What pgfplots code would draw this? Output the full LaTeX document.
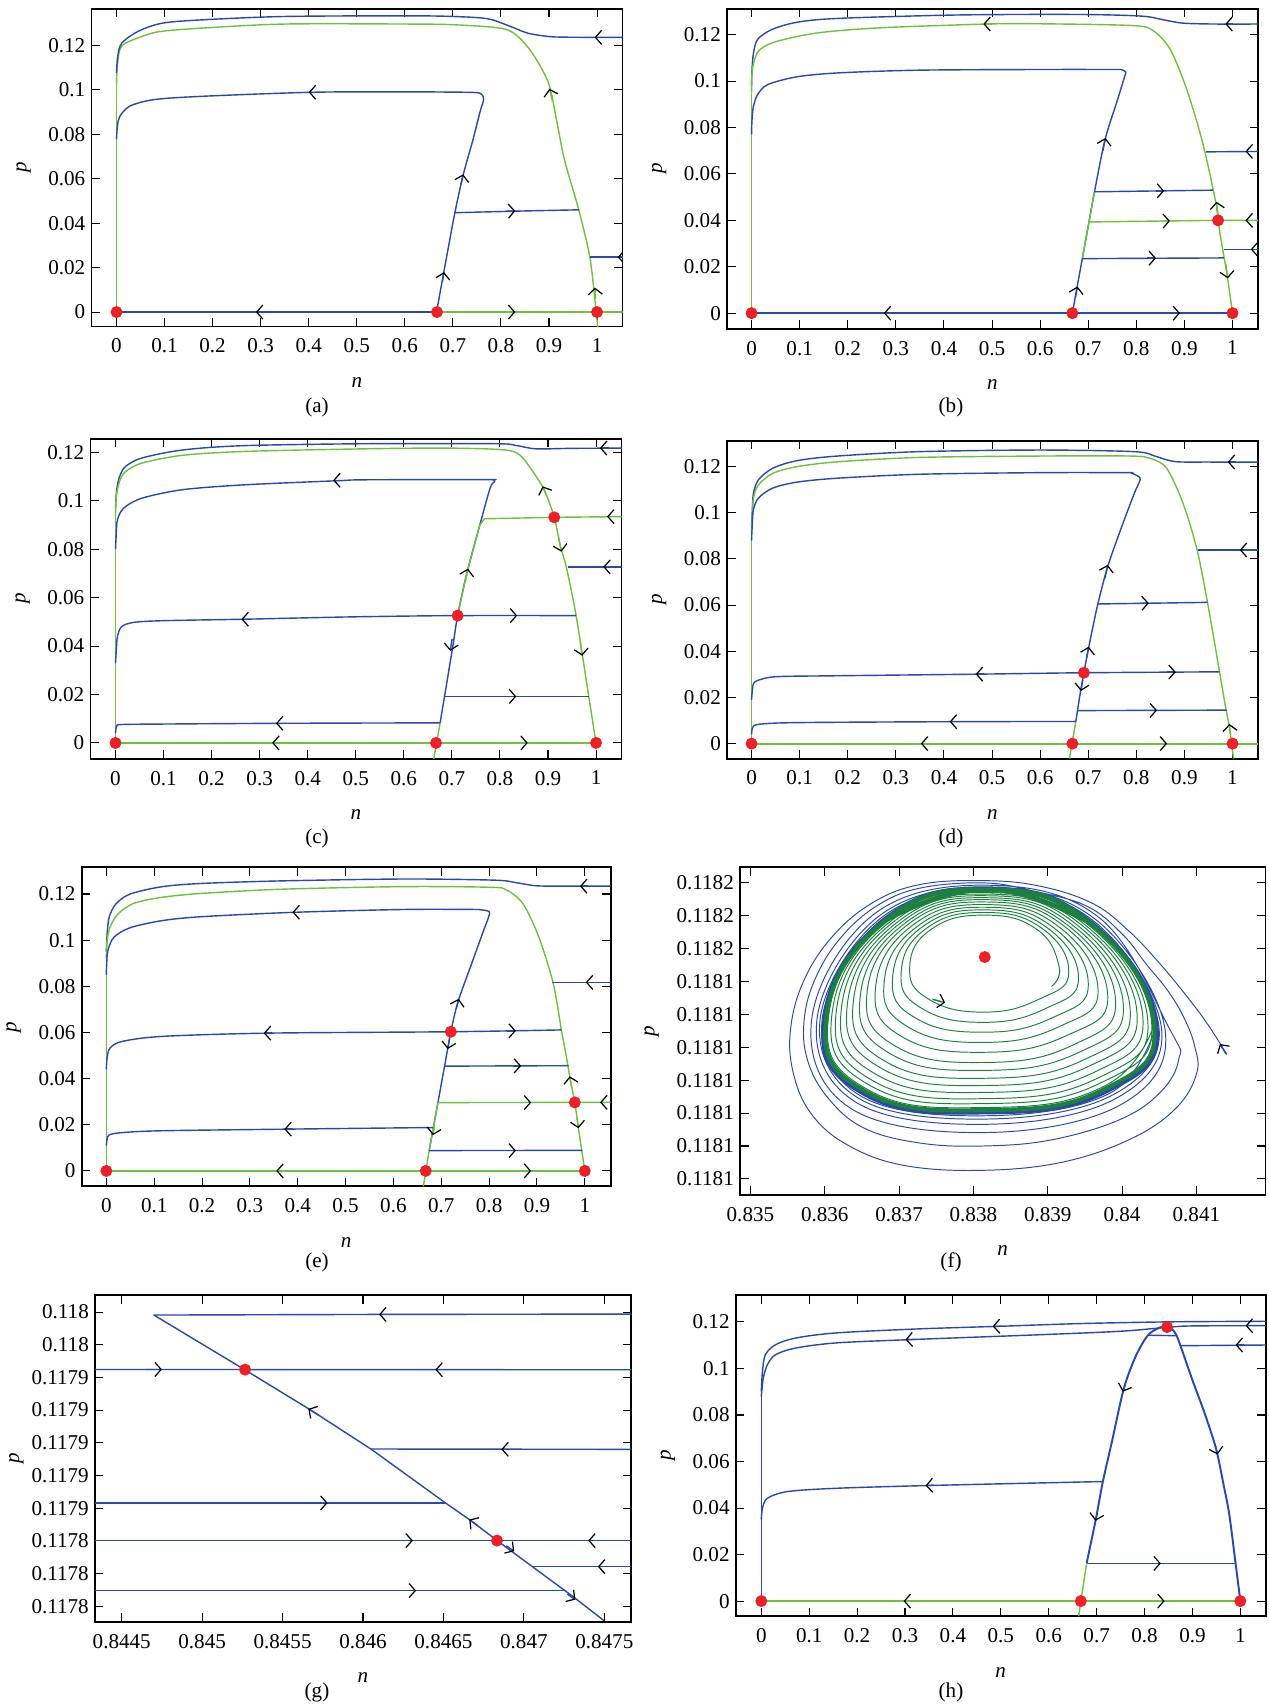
\documentclass[border=0pt]{standalone}
\usepackage{fontspec}
\setmainfont{Liberation Serif}
\usepackage{pgfplots}
\pgfplotsset{compat=1.18}
\usetikzlibrary{arrows.meta}

\definecolor{tb}{RGB}{42,72,168}
\definecolor{tg}{RGB}{112,192,62}
\definecolor{dg}{RGB}{28,128,62}
\definecolor{rd}{RGB}{236,32,38}
\newcommand{\tfont}{\fontsize{12}{14}\selectfont}

% a short piece of a trajectory that carries a black chevron (flow direction)
\newcommand{\flowarr}[5][tb]{\addplot[#1, line width=0.8pt, forget plot,
  -{Straight Barb[length=3.5pt,width=8pt,line width=0.7pt,color=black]}]
  coordinates {(#2,#3) (#4,#5)};}
% equilibria
\newcommand{\eqpts}[1]{\addplot[only marks, mark=*, mark size=3pt, color=rd, forget plot] coordinates {#1};}

\pgfplotsset{
  base/.style={
    scale only axis, anchor=north west,
    axis line style={line width=1.1pt},
    every tick/.style={black, line width=0.6pt},
    major tick length=0.17cm,
    tick label style={font=\tfont},
    label style={font=\tfont},
    ylabel style={inner sep=1pt},
    /pgf/number format/assume math mode=true,
    scaled ticks=false,
    xlabel={\textit{n}}, ylabel={\textit{p}},
    xticklabel style={yshift=-3.5pt},
    xlabel shift=7pt, ylabel shift=5.5pt,
    every axis plot/.append style={line width=0.8pt, line join=round},
  },
  phase/.style={base,
    xtick={0,0.1,0.2,0.3,0.4,0.5,0.6,0.7,0.8,0.9,1},
    ytick={0,0.02,0.04,0.06,0.08,0.1,0.12},
    yticklabel style={/pgf/number format/fixed,/pgf/number format/precision=2},
    xticklabel style={/pgf/number format/fixed,/pgf/number format/precision=1},
  },
  ring/.style={smooth, tension=0.8, line width=0.55pt},
}

\begin{document}
\begin{tikzpicture}
\useasboundingbox (0,0) rectangle (25.36,-34.12);

% ---------------- (a)
\begin{axis}[phase, at={(1.83cm,-0.174cm)}, width=10.62cm, height=6.356cm,
  xmin=-0.052, xmax=1.053, ymin=-0.0065, ymax=0.1365]
\addplot[tg, smooth] coordinates {(1.002,-0.008) (0.996,0.0045) (0.985,0.0247) (0.962,0.046) (0.932,0.0687) (0.9155,0.0867) (0.899,0.1031) (0.865,0.1166) (0.831,0.1248) (0.797,0.1278) (0.7,0.1293) (0.6,0.1296) (0.35,0.1296) (0.18,0.1278) (0.09,0.1262) (0.053,0.124) (0.019,0.121) (0.0068,0.118) (0.0017,0.1106) (0,0.102)};
\addplot[tg] coordinates {(0,0.102) (0,0)};
\addplot[tb, smooth] coordinates {(1.06,0.1236) (1.0,0.1236) (0.93,0.1237) (0.899,0.124) (0.856,0.1255) (0.814,0.129) (0.772,0.132) (0.7,0.133) (0.6,0.1333) (0.35,0.133) (0.18,0.1315) (0.0955,0.130) (0.045,0.1263) (0.011,0.121) (0.0025,0.115) (0,0.1076)};
\addplot[tb, smooth] coordinates {(0.666,0) (0.685,0.0225) (0.704,0.0445) (0.721,0.0613) (0.742,0.0777) (0.757,0.0905) (0.764,0.0955) (0.76,0.098) (0.745,0.0988) (0.68,0.099) (0.6,0.0991) (0.408,0.0989) (0.18,0.0971) (0.0786,0.0956) (0.028,0.0927) (0.0068,0.088) (0.002,0.0837) (0,0.0777)};
\addplot[tb] coordinates {(0.704,0.0447) (0.85,0.0455) (0.962,0.046)};
\addplot[tb] coordinates {(0.985,0.0247) (1.06,0.0247)};
\addplot[tb, line width=1.1pt] coordinates {(0,0) (0.667,0)};
\addplot[tg, line width=1pt] coordinates {(0.667,0) (1.06,0)};
\flowarr{0.31}{0}{0.29}{0}
\flowarr[tg]{0.81}{0}{0.83}{0}
\flowarr{1.012}{0.1236}{0.995}{0.1236}
\flowarr{0.418}{0.0989}{0.40}{0.0989}
\flowarr{0.812}{0.0454}{0.83}{0.0455}
\flowarr{1.06}{0.0247}{1.043}{0.0247}
\flowarr{0.678}{0.0135}{0.6815}{0.0180}
\flowarr{0.717}{0.0575}{0.7215}{0.0620}
\flowarr[tg]{0.907}{0.0950}{0.901}{0.1005}
\flowarr[tg]{0.997}{0.0060}{0.9955}{0.0110}
\eqpts{(0,0) (0.667,0) (1,0)}
\end{axis}
\node[font=\tfont] at (6.34,-8.14) {(a)};

% ---------------- (b)
\begin{axis}[phase, at={(14.54cm,-0.174cm)}, width=10.62cm, height=6.40cm,
  xmin=-0.051, xmax=1.053, ymin=-0.0067, ymax=0.1312]
\addplot[tb, smooth] coordinates {(1.06,0.1246) (0.96,0.1246) (0.896,0.125) (0.854,0.1265) (0.811,0.128) (0.685,0.1287) (0.431,0.1285) (0.1775,0.127) (0.093,0.1253) (0.042,0.1222) (0.0127,0.118) (0.004,0.112) (0.001,0.105) (0,0.098)};
\addplot[tg, smooth] coordinates {(1,0) (0.989,0.016) (0.976,0.0318) (0.97,0.04) (0.964,0.049) (0.938,0.0734) (0.905,0.0963) (0.871,0.1135) (0.837,0.1214) (0.795,0.1239) (0.6,0.1247) (0.49,0.1246) (0.262,0.1229) (0.135,0.1207) (0.0507,0.117) (0.017,0.1135) (0.006,0.109) (0.001,0.1035) (0,0.095)};
\addplot[tg] coordinates {(0,0.095) (0,0)};
\addplot[tb, smooth] coordinates {(0.667,0) (0.6748,0.0089) (0.6877,0.0235) (0.7016,0.0393) (0.713,0.0523) (0.735,0.0748) (0.761,0.092) (0.775,0.1015) (0.778,0.1038) (0.77,0.1049) (0.752,0.105) (0.6,0.105) (0.3466,0.1047) (0.1775,0.1035) (0.093,0.1018) (0.0338,0.0985) (0.0127,0.0942) (0.004,0.0892) (0.001,0.0834) (0,0.077)};
\addplot[tg] coordinates {(0.6877,0.0235) (0.7016,0.0393) (0.713,0.0523)};
\addplot[tb] coordinates {(0.713,0.0523) (0.959,0.053)};
\addplot[tg] coordinates {(0.7016,0.0393) (0.85,0.0397) (0.97,0.04) (1.06,0.04)};
\addplot[tb] coordinates {(0.6877,0.0235) (0.982,0.0238)};
\addplot[tb] coordinates {(0.982,0.0275) (1.06,0.0275)};
\addplot[tb] coordinates {(0.945,0.0695) (1.06,0.0697)};
\addplot[tb, line width=1.1pt] coordinates {(0,0) (1,0)};
\flowarr{0.293}{0}{0.275}{0}
\flowarr{0.873}{0}{0.891}{0}
\flowarr{1.002}{0.1246}{0.985}{0.1246}
\flowarr[tg]{0.50}{0.1246}{0.482}{0.1246}
\flowarr{0.84}{0.0527}{0.858}{0.0527}
\flowarr[tg]{0.852}{0.0397}{0.87}{0.0398}
\flowarr[tg]{1.045}{0.04}{1.027}{0.04}
\flowarr{0.823}{0.0237}{0.841}{0.0237}
\flowarr{1.055}{0.0275}{1.038}{0.0275}
\flowarr{1.045}{0.0697}{1.027}{0.0697}
\flowarr{0.6735}{0.0070}{0.6775}{0.0115}
\flowarr{0.7305}{0.0700}{0.7360}{0.0755}
\flowarr[tg]{0.9865}{0.0210}{0.9900}{0.0150}
\flowarr[tg]{0.9700}{0.0425}{0.9665}{0.0480}
\eqpts{(0,0) (0.667,0) (1,0) (0.97,0.04)}
\end{axis}
\node[font=\tfont] at (19.02,-8.14) {(b)};

% ---------------- (c)
\begin{axis}[phase, at={(1.81cm,-8.773cm)}, width=10.62cm, height=6.40cm,
  xmin=-0.052, xmax=1.053, ymin=-0.0065, ymax=0.1257]
\addplot[tb, smooth] coordinates {(1.06,0.1218) (0.95,0.1217) (0.875,0.1215) (0.833,0.1229) (0.79,0.1236) (0.52,0.1236) (0.266,0.1228) (0.139,0.121) (0.055,0.1177) (0.021,0.1142) (0.0085,0.110) (0.0025,0.1045) (0,0.097)};
\addplot[tg, smooth] coordinates {(1,0) (0.985,0.019) (0.959,0.0521) (0.938,0.0728) (0.926,0.0811) (0.913,0.0932) (0.892,0.1046) (0.866,0.1128) (0.841,0.119) (0.807,0.1211) (0.689,0.1218) (0.52,0.1215) (0.266,0.1204) (0.139,0.1188) (0.055,0.1156) (0.021,0.1121) (0.0085,0.108) (0.0017,0.1018) (0,0.094)};
\addplot[tg] coordinates {(0,0.094) (0,0)};
\addplot[tb, smooth] coordinates {(0.6756,0.0083) (0.6847,0.0192) (0.7018,0.0397) (0.712,0.0526) (0.731,0.070) (0.761,0.0921) (0.780,0.1055) (0.789,0.108) (0.785,0.1087) (0.773,0.1088) (0.52,0.1087) (0.461,0.1083) (0.266,0.1066) (0.139,0.1046) (0.055,0.1011) (0.017,0.097) (0.004,0.0921) (0.0017,0.0866) (0,0.08)};
\addplot[tg] coordinates {(0.712,0.0526) (0.731,0.070) (0.758,0.090) (0.768,0.0926) (0.913,0.0932) (1.06,0.0935)};
\addplot[tg] coordinates {(0.661,-0.008) (0.6756,0.0083)};
\addplot[tb, smooth] coordinates {(0.958,0.0526) (0.712,0.0526) (0.5,0.0521) (0.266,0.0511) (0.1,0.0505) (0.038,0.0498) (0.0127,0.048) (0.004,0.0439) (0.0017,0.0383) (0,0.033)};
\addplot[tb] coordinates {(0.6847,0.0192) (0.986,0.0192)};
\addplot[tb, smooth] coordinates {(0.6756,0.0083) (0.342,0.0081) (0.1,0.0078) (0.0127,0.0076) (0.0025,0.0069) (0,0.004)};
\addplot[tb] coordinates {(0.941,0.0727) (1.06,0.0727)};
\addplot[tg, line width=1pt] coordinates {(0,0) (1,0)};
\flowarr[tg]{0.344}{0}{0.326}{0}
\flowarr[tg]{0.84}{0}{0.858}{0}
\flowarr{1.026}{0.1218}{1.008}{0.1218}
\flowarr{0.471}{0.1085}{0.453}{0.1085}
\flowarr{0.28}{0.0511}{0.262}{0.0511}
\flowarr{0.818}{0.0526}{0.836}{0.0526}
\flowarr{0.816}{0.0192}{0.834}{0.0192}
\flowarr{0.352}{0.0081}{0.334}{0.0081}
\flowarr[tg]{1.041}{0.0935}{1.023}{0.0935}
\flowarr{1.033}{0.0727}{1.015}{0.0727}
\flowarr{0.7005}{0.0430}{0.6965}{0.0380}
\flowarr[tg]{0.7285}{0.0670}{0.7335}{0.0720}
\flowarr[tg]{0.8970}{0.1020}{0.8890}{0.1060}
\flowarr[tg]{0.9220}{0.0850}{0.9280}{0.0790}
\flowarr[tg]{0.9670}{0.0420}{0.9710}{0.0360}
\eqpts{(0,0) (0.667,0) (1,0) (0.712,0.0526) (0.913,0.0932)}
\end{axis}
\node[font=\tfont] at (6.34,-16.76) {(c)};

% ---------------- (d)
\begin{axis}[phase, at={(14.54cm,-8.816cm)}, width=10.62cm, height=6.356cm,
  xmin=-0.051, xmax=1.053, ymin=-0.0065, ymax=0.1312]
\addplot[tb, smooth] coordinates {(1.06,0.122) (0.95,0.122) (0.88,0.1222) (0.838,0.1246) (0.796,0.1265) (0.601,0.1272) (0.348,0.1265) (0.179,0.1246) (0.0946,0.1226) (0.044,0.1193) (0.0144,0.1143) (0.004,0.1085) (0.0017,0.1014) (0,0.094)};
\addplot[tg, smooth] coordinates {(1.002,-0.0065) (0.994,0.0067) (0.986,0.0153) (0.973,0.0311) (0.948,0.0612) (0.926,0.0842) (0.897,0.1042) (0.863,0.1193) (0.829,0.1236) (0.787,0.1246) (0.601,0.1246) (0.348,0.124) (0.179,0.1221) (0.0946,0.12) (0.044,0.1171) (0.0144,0.1121) (0.004,0.1064) (0.0017,0.0992) (0,0.092)};
\addplot[tg] coordinates {(0,0.092) (0,0)};
\addplot[tb, smooth] coordinates {(0.6742,0.0096) (0.6777,0.0143) (0.6827,0.021) (0.691,0.0307) (0.7004,0.0411) (0.72,0.0605) (0.741,0.077) (0.77,0.0942) (0.796,0.1085) (0.808,0.1143) (0.804,0.1158) (0.79,0.1172) (0.779,0.1174) (0.601,0.1174) (0.348,0.1167) (0.179,0.115) (0.0946,0.1133) (0.044,0.1107) (0.0144,0.1064) (0.004,0.1014) (0.0017,0.0956) (0,0.088)};
\addplot[tg] coordinates {(0.661,-0.0065) (0.6742,0.0096)};
\addplot[tb] coordinates {(0.72,0.0605) (0.948,0.0612)};
\addplot[tb, smooth] coordinates {(0.973,0.0311) (0.691,0.0307) (0.475,0.0301) (0.179,0.0294) (0.0524,0.029) (0.0144,0.0275) (0.004,0.026) (0.0017,0.023) (0,0.019)};
\addplot[tb] coordinates {(0.6777,0.0143) (0.988,0.0145)};
\addplot[tb, smooth] coordinates {(0.6742,0.0096) (0.42,0.0095) (0.15,0.0092) (0.052,0.0089) (0.01,0.0082) (0.002,0.0068) (0,0.004)};
\addplot[tb] coordinates {(0.929,0.0839) (1.06,0.0839)};
\addplot[tg, line width=1.2pt] coordinates {(0,0) (1.06,0)};
\flowarr[tg]{0.37}{0}{0.352}{0}
\flowarr[tg]{0.846}{0}{0.864}{0}
\flowarr{1.008}{0.122}{0.99}{0.122}
\flowarr{0.484}{0.0301}{0.466}{0.0301}
\flowarr{0.864}{0.031}{0.882}{0.031}
\flowarr{0.43}{0.0095}{0.412}{0.0095}
\flowarr{0.808}{0.0608}{0.826}{0.0609}
\flowarr{0.825}{0.0144}{0.843}{0.0144}
\flowarr{1.033}{0.0839}{1.015}{0.0839}
\flowarr{0.6885}{0.0275}{0.6848}{0.0228}
\flowarr{0.6965}{0.0370}{0.7010}{0.0420}
\flowarr{0.7345}{0.0715}{0.7405}{0.0775}
\flowarr[tg]{0.9955}{0.0040}{0.9935}{0.0085}
\eqpts{(0,0) (0.667,0) (1,0) (0.691,0.0307)}
\end{axis}
\node[font=\tfont] at (19.02,-16.76) {(d)};

% ---------------- (e)
\begin{axis}[phase, at={(1.633cm,-17.349cm)}, width=10.58cm, height=6.378cm,
  xmin=-0.0516, xmax=1.054, ymin=-0.0067, ymax=0.1315]
\addplot[tb, smooth] coordinates {(1.06,0.1234) (0.95,0.1234) (0.896,0.1236) (0.854,0.125) (0.811,0.126) (0.625,0.1265) (0.371,0.1257) (0.202,0.1246) (0.1176,0.1232) (0.05,0.12) (0.02,0.1157) (0.006,0.11) (0.0017,0.1028) (0,0.095)};
\addplot[tg, smooth] coordinates {(1,0) (0.989,0.0152) (0.979,0.0297) (0.970,0.039) (0.961,0.050) (0.951,0.0611) (0.934,0.0812) (0.904,0.1013) (0.871,0.1157) (0.837,0.1217) (0.803,0.1229) (0.625,0.1232) (0.371,0.1221) (0.202,0.1203) (0.1176,0.1186) (0.058,0.116) (0.0245,0.1114) (0.0076,0.1056) (0.0017,0.0999) (0,0.092)};
\addplot[tg] coordinates {(0,0.092) (0,0)};
\addplot[tb, smooth] coordinates {(0.6747,0.0088) (0.6835,0.0188) (0.693,0.0296) (0.707,0.0455) (0.72,0.0603) (0.735,0.0733) (0.761,0.0884) (0.786,0.1028) (0.801,0.1114) (0.796,0.1127) (0.78,0.1132) (0.769,0.1133) (0.625,0.1133) (0.397,0.1121) (0.202,0.1102) (0.1176,0.1085) (0.05,0.1054) (0.016,0.1013) (0.0034,0.0956) (0.0008,0.09) (0,0.085)};
\addplot[tg] coordinates {(0.6625,-0.0067) (0.6747,0.0088) (0.6835,0.0188) (0.693,0.0296)};
\addplot[tb, smooth] coordinates {(0.951,0.0611) (0.72,0.0603) (0.3376,0.0597) (0.1176,0.0583) (0.033,0.0561) (0.0076,0.0532) (0.0017,0.049) (0,0.044)};
\addplot[tb] coordinates {(0.707,0.0454) (0.966,0.0456)};
\addplot[tg] coordinates {(0.693,0.0296) (0.979,0.0297) (1.06,0.0297)};
\addplot[tb, smooth] coordinates {(0.6835,0.0188) (0.38,0.0181) (0.1176,0.0174) (0.033,0.0166) (0.006,0.0156) (0.0017,0.0137) (0,0.011)};
\addplot[tb] coordinates {(0.6747,0.0088) (0.995,0.0089)};
\addplot[tb] coordinates {(0.932,0.0817) (1.06,0.0817)};
\addplot[tg, line width=1pt] coordinates {(0,0) (1,0)};
\flowarr[tg]{0.373}{0}{0.355}{0}
\flowarr[tg]{0.87}{0}{0.888}{0}
\flowarr{1.007}{0.1234}{0.99}{0.1234}
\flowarr{0.407}{0.1121}{0.389}{0.1121}
\flowarr{0.347}{0.0597}{0.329}{0.0597}
\flowarr{0.838}{0.0607}{0.856}{0.0607}
\flowarr{0.849}{0.0455}{0.867}{0.0455}
\flowarr[tg]{0.87}{0.0296}{0.888}{0.0296}
\flowarr[tg]{1.05}{0.0297}{1.032}{0.0297}
\flowarr{0.39}{0.0181}{0.372}{0.0181}
\flowarr{0.838}{0.0088}{0.856}{0.0088}
\flowarr{1.02}{0.0817}{1.002}{0.0817}
\flowarr{0.7315}{0.0703}{0.7365}{0.0746}
\flowarr{0.7175}{0.0575}{0.7135}{0.0528}
\flowarr[tg]{0.6865}{0.0200}{0.6825}{0.0155}
\flowarr[tg]{0.9835}{0.0230}{0.9865}{0.0185}
\flowarr[tg]{0.9725}{0.0360}{0.9685}{0.0410}
\eqpts{(0,0) (0.6675,0) (1,0) (0.72,0.0603) (0.979,0.0297)}
\end{axis}
\node[font=\tfont] at (6.34,-25.25) {(e)};

% ---------------- (f)
\begin{axis}[base, at={(14.80cm,-17.349cm)}, width=10.51cm, height=6.55cm,
  xmin=0.83486, xmax=0.84193, ymin=-0.49, ymax=9.47,
  xtick={0.835,0.836,0.837,0.838,0.839,0.84,0.841},
  xticklabel style={/pgf/number format/fixed,/pgf/number format/precision=3},
  ytick={0,1,2,3,4,5,6,7,8,9},
  yticklabels={0.1181,0.1181,0.1181,0.1181,0.1181,0.1181,0.1181,0.1182,0.1182,0.1182}]
% outer trajectory (blue) winding in towards the cycle
\addplot[tb, ring, tension=0.65] coordinates {(0.84141,3.78) (0.841166,4.655) (0.840896,5.48) (0.840518,6.52) (0.840086,7.55) (0.839600,8.38) (0.838898,8.90) (0.838143,9.07) (0.837279,8.95) (0.836631,8.38) (0.836091,7.34) (0.835713,6.00) (0.835540,4.55) (0.835578,3.21) (0.835821,1.97) (0.836307,1.03) (0.837063,0.41) (0.838143,0.26) (0.839222,0.52) (0.840140,1.24) (0.840734,2.17) (0.841004,3.21) (0.840977,4.03) (0.840842,4.86) (0.840626,5.69) (0.840329,6.52) (0.840000,7.45) (0.839520,8.30) (0.838790,8.76) (0.838143,9.00) (0.837279,8.84) (0.836685,8.28) (0.836199,7.29) (0.835875,6.10) (0.835724,4.86) (0.835767,3.62) (0.836037,2.48) (0.836523,1.55) (0.837279,1.09) (0.838143,1.00) (0.839060,1.19) (0.839978,1.81) (0.840518,2.64) (0.840761,3.62)
 (0.840658,4.48) (0.839700,7.93) (0.838197,8.93) (0.836663,8.05) (0.835825,4.86) (0.836345,2.15) (0.838197,1.41) (0.840010,2.29)
 (0.840577,4.56) (0.839660,7.86) (0.838197,8.88) (0.836717,7.97) (0.835896,4.86) (0.836419,2.33) (0.838197,1.66) (0.839929,2.46)
 (0.840529,4.60) (0.839635,7.81) (0.838197,8.86) (0.836750,7.92) (0.835938,4.86) (0.836464,2.44) (0.838197,1.82) (0.839881,2.56)
 (0.840496,4.63) (0.839618,7.78) (0.838197,8.84) (0.836771,7.89) (0.835966,4.86) (0.836493,2.51) (0.838197,1.92) (0.839848,2.62)
 (0.840464,4.66)};
% the limit cycle: blue outer edge, green inner edge
\addplot[tb, ring, line width=2.2pt] coordinates {(0.839600,7.76) (0.838197,8.82) (0.836793,7.86) (0.835994,4.86) (0.836523,2.59) (0.838197,2.02) (0.839816,2.69) (0.840464,4.66) (0.839600,7.76) (0.838197,8.82) (0.836793,7.86)};
\addplot[dg, ring, line width=2.4pt] coordinates {(0.839581,7.76) (0.838196,8.80) (0.836809,7.85) (0.836022,4.90) (0.836545,2.66) (0.838196,2.09) (0.839793,2.76) (0.840431,4.70) (0.839581,7.76) (0.838196,8.80) (0.836809,7.85)};
% inner trajectory (green) winding out towards the cycle
\addplot[dg, ring] coordinates {(0.83905,5.85)
 (0.839152,6.47) (0.838845,7.60) (0.838143,8.02) (0.837440,7.60) (0.837144,6.47) (0.837387,5.48) (0.838143,5.07) (0.838899,5.48)
 (0.839283,6.28) (0.838921,7.62) (0.838148,8.10) (0.837375,7.63) (0.837029,6.30) (0.837301,5.19) (0.838148,4.76) (0.838991,5.20)
 (0.839414,6.10) (0.838996,7.63) (0.838154,8.18) (0.837311,7.66) (0.836914,6.14) (0.837214,4.90) (0.838154,4.46) (0.839082,4.92)
 (0.839546,5.92) (0.839072,7.65) (0.838159,8.26) (0.837246,7.68) (0.836799,5.98) (0.837128,4.61) (0.838159,4.15) (0.839174,4.65)
 (0.839677,5.74) (0.839147,7.67) (0.838165,8.34) (0.837181,7.71) (0.836684,5.82) (0.837041,4.32) (0.838165,3.85) (0.839266,4.37)
 (0.839808,5.56) (0.839223,7.68) (0.838170,8.42) (0.837116,7.73) (0.836569,5.66) (0.836955,4.03) (0.838170,3.54) (0.839358,4.09)
 (0.839913,5.42) (0.839283,7.69) (0.838174,8.49) (0.837065,7.75) (0.836477,5.54) (0.836886,3.80) (0.838174,3.30) (0.839431,3.86)
 (0.840018,5.27) (0.839343,7.70) (0.838179,8.55) (0.837013,7.77) (0.836385,5.41) (0.836817,3.57) (0.838179,3.06) (0.839504,3.64)
 (0.840110,5.14) (0.839396,7.72) (0.838182,8.61) (0.836968,7.79) (0.836304,5.30) (0.836756,3.37) (0.838182,2.84) (0.839568,3.44)
 (0.840202,5.02) (0.839449,7.73) (0.838186,8.66) (0.836922,7.81) (0.836224,5.18) (0.836696,3.17) (0.838186,2.63) (0.839633,3.25)
 (0.840280,4.91) (0.839494,7.74) (0.838189,8.71) (0.836884,7.83) (0.836155,5.09) (0.836644,2.99) (0.838189,2.44) (0.839688,3.08)
 (0.840346,4.82) (0.839532,7.75) (0.838192,8.75) (0.836851,7.84) (0.836097,5.01) (0.836601,2.85) (0.838192,2.29) (0.839733,2.94)
 (0.840398,4.75) (0.839562,7.75) (0.838194,8.78) (0.836825,7.85) (0.836051,4.94) (0.836566,2.73) (0.838194,2.17) (0.839770,2.83)
 (0.840431,4.70)};
\flowarr[dg]{0.83745}{5.46}{0.83762}{5.36}
\flowarr{0.84140}{3.80}{0.841316}{4.10}
\eqpts{(0.838153,6.745)}
\end{axis}
\node[font=\tfont] at (19.02,-25.25) {(f)};

% ---------------- (g)
\begin{axis}[base, at={(1.90cm,-25.904cm)}, width=10.72cm, height=6.53cm,
  xmin=0.844334, xmax=0.847666, ymin=-0.476, ymax=9.517, ylabel shift=0pt,
  xtick={0.8445,0.845,0.8455,0.846,0.8465,0.847,0.8475},
  xticklabel style={/pgf/number format/fixed,/pgf/number format/precision=4},
  ytick={0,1,2,3,4,5,6,7,8,9},
  yticklabels={0.1178,0.1178,0.1178,0.1179,0.1179,0.1179,0.1179,0.1179,0.118,0.118}]
\addplot[tb] coordinates {(0.84775,8.94) (0.84615,8.93) (0.8447,8.91) (0.845267,7.23) (0.845679,5.99) (0.846049,4.81) (0.846507,3.18) (0.846673,2.61) (0.846833,2.01) (0.847042,1.25) (0.847309,0.28) (0.8475,-0.45)};
\addplot[tb] coordinates {(0.8443,7.245) (0.84767,7.235)};
\addplot[tb] coordinates {(0.846049,4.81) (0.84767,4.80)};
\addplot[tb] coordinates {(0.8443,3.16) (0.846507,3.16)};
\addplot[tb] coordinates {(0.8443,2.007) (0.84767,2.007)};
\addplot[tb] coordinates {(0.847052,1.21) (0.84767,1.21)};
\addplot[tb] coordinates {(0.8443,0.476) (0.847255,0.476)};
\flowarr{0.8462}{8.93}{0.8461}{8.93}
\flowarr{0.84465}{7.245}{0.84475}{7.244}
\flowarr{0.84655}{7.238}{0.84645}{7.238}
\flowarr{0.84696}{4.80}{0.84686}{4.80}
\flowarr{0.84568}{3.16}{0.84578}{3.16}
\flowarr{0.84621}{2.007}{0.84631}{2.007}
\flowarr{0.8475}{2.007}{0.8474}{2.007}
\flowarr{0.84756}{1.21}{0.84746}{1.21}
\flowarr{0.84623}{0.476}{0.84633}{0.476}
\flowarr{0.84572}{5.86}{0.84566}{6.04}
\flowarr{0.84671}{2.48}{0.84666}{2.65}
\flowarr{0.84689}{1.85}{0.84694}{1.68}
\flowarr{0.84727}{0.37}{0.84732}{0.20}
\eqpts{(0.845267,7.24) (0.846833,2.007)}
\end{axis}
\node[font=\tfont] at (6.34,-33.85) {(g)};

% ---------------- (h)
\begin{axis}[phase, at={(14.715cm,-25.904cm)}, width=10.60cm, height=6.42cm,
  xmin=-0.0533, xmax=1.053, ymin=-0.0065, ymax=0.1315]
\addplot[tb, smooth] coordinates {(1.06,0.1203) (0.95,0.1202) (0.833,0.12) (0.664,0.1193) (0.491,0.1181) (0.326,0.117) (0.1565,0.1153) (0.072,0.1131) (0.0296,0.1102) (0.0085,0.1059) (0.0025,0.0988) (0,0.09)};
\addplot[tb, smooth] coordinates {(1.06,0.1184) (0.9,0.1183) (0.847,0.1177) (0.749,0.116) (0.58,0.1145) (0.309,0.1124) (0.1565,0.111) (0.072,0.1088) (0.0296,0.1059) (0.0127,0.1016) (0.0042,0.0959) (0,0.088)};
\addplot[tb] coordinates {(0,0.09) (0,0)};
\addplot[tb, smooth, line width=1.1pt] coordinates {(0.679,0.0162) (0.698,0.0349) (0.713,0.0514) (0.732,0.0686) (0.757,0.0916) (0.783,0.1059) (0.808,0.1145) (0.833,0.1177) (0.847,0.1178) (0.858,0.1168) (0.867,0.1141) (0.878,0.108) (0.901,0.0944) (0.925,0.081) (0.949,0.0657) (0.965,0.050) (0.977,0.037) (0.99,0.0162) (1,0)};
\addplot[tb] coordinates {(0.808,0.1143) (0.867,0.1141)};
\addplot[tb] coordinates {(1.06,0.1101) (0.875,0.1098)};
\addplot[tb, smooth] coordinates {(0.713,0.0514) (0.351,0.0497) (0.1565,0.0485) (0.055,0.0471) (0.0127,0.0442) (0.0025,0.0399) (0,0.035)};
\addplot[tb] coordinates {(0.679,0.0162) (0.988,0.0162)};
\addplot[tg] coordinates {(0.6624,-0.0065) (0.679,0.0162)};
\addplot[tg, line width=1pt] coordinates {(0,0) (1,0)};
\flowarr[tg]{0.315}{0}{0.297}{0}
\flowarr[tg]{0.824}{0}{0.842}{0}
\flowarr{0.501}{0.1182}{0.483}{0.1181}
\flowarr{0.319}{0.1125}{0.301}{0.1124}
\flowarr{1.029}{0.1184}{1.011}{0.1184}
\flowarr{1.008}{0.1101}{0.99}{0.1101}
\flowarr{0.361}{0.0498}{0.343}{0.0497}
\flowarr{0.816}{0.0162}{0.834}{0.0162}
\flowarr{0.7015}{0.0385}{0.6975}{0.0345}
\flowarr{0.7605}{0.0935}{0.7545}{0.0900}
\flowarr{0.9475}{0.0672}{0.9525}{0.0630}
\eqpts{(0,0) (0.667,0) (1,0) (0.847,0.1178)}
\end{axis}
\node[font=\tfont] at (19.02,-33.85) {(h)};
\end{tikzpicture}
\end{document}
